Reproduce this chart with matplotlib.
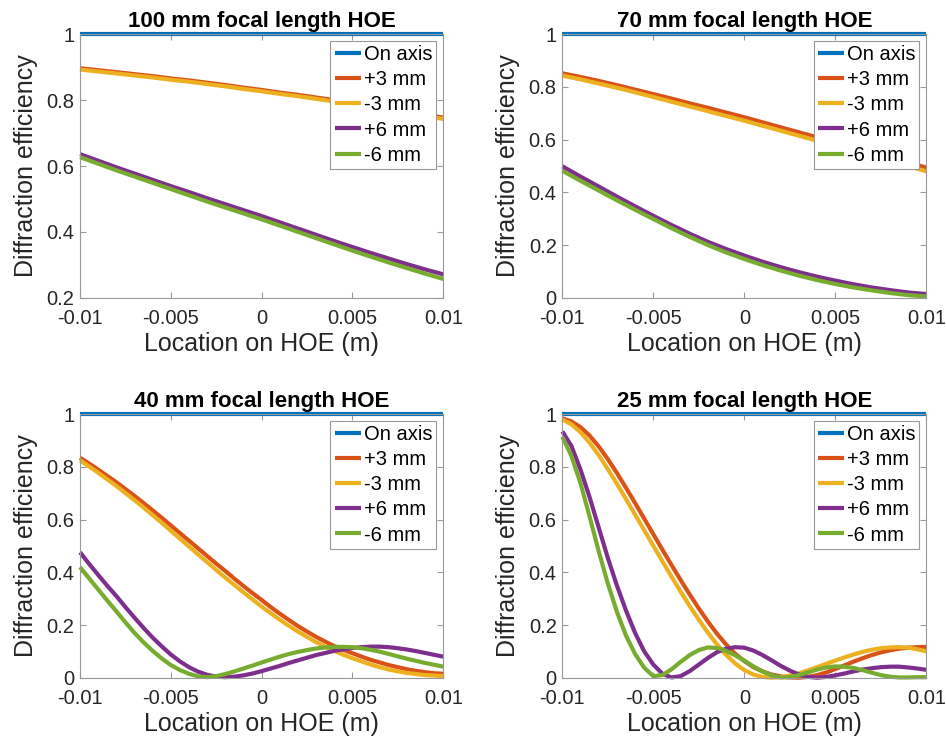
import numpy as np
import matplotlib
matplotlib.use("Agg")
import matplotlib.pyplot as plt

plt.rcParams['font.family'] = ['Liberation Sans', 'DejaVu Sans']

# sample positions on the HOE (m)
x_1mm = np.linspace(-0.01, 0.01, 21)
x_half = np.linspace(-0.01, 0.01, 41)

labels = ["On axis", "+3 mm", "-3 mm", "+6 mm", "-6 mm"]
colors = ["#0072BD", "#D95319", "#EDB120", "#7E2F8E", "#77AC30"]
xtick_vals = [-0.01, -0.005, 0, 0.005, 0.01]
xtick_text = ["-0.01", "-0.005", "0", "0.005", "0.01"]

# 100 mm focal length (every 1 mm)
f100_p3 = [0.897, 0.891, 0.885, 0.879, 0.873, 0.866, 0.860, 0.853, 0.846, 0.838, 0.831,
           0.823, 0.816, 0.808, 0.800, 0.791, 0.783, 0.774, 0.765, 0.756, 0.747]
f100_m3 = [0.893, 0.887, 0.881, 0.875, 0.869, 0.862, 0.856, 0.849, 0.842, 0.834, 0.827,
           0.819, 0.812, 0.804, 0.796, 0.787, 0.779, 0.770, 0.761, 0.752, 0.743]
f100_p6 = [0.636, 0.616, 0.596, 0.577, 0.558, 0.539, 0.521, 0.502, 0.484, 0.466, 0.448,
           0.429, 0.410, 0.391, 0.372, 0.354, 0.336, 0.319, 0.302, 0.286, 0.271]
f100_m6 = [0.627, 0.607, 0.587, 0.568, 0.549, 0.530, 0.511, 0.492, 0.474, 0.456, 0.438,
           0.419, 0.400, 0.381, 0.362, 0.343, 0.325, 0.307, 0.290, 0.273, 0.257]

# 70 mm focal length (every 1 mm)
f70_p3 = [0.852, 0.838, 0.823, 0.807, 0.790, 0.773, 0.756, 0.738, 0.721, 0.703, 0.685,
          0.666, 0.647, 0.628, 0.609, 0.590, 0.571, 0.552, 0.533, 0.514, 0.494]
f70_m3 = [0.843, 0.829, 0.813, 0.797, 0.780, 0.762, 0.744, 0.726, 0.708, 0.690, 0.672,
          0.653, 0.634, 0.615, 0.596, 0.577, 0.557, 0.538, 0.519, 0.499, 0.480]
f70_p6 = [0.499, 0.460, 0.422, 0.384, 0.347, 0.311, 0.276, 0.243, 0.212, 0.185, 0.160,
          0.137, 0.116, 0.097, 0.080, 0.065, 0.051, 0.039, 0.029, 0.020, 0.014]
f70_m6 = [0.482, 0.444, 0.407, 0.370, 0.334, 0.299, 0.264, 0.231, 0.200, 0.172, 0.147,
          0.124, 0.103, 0.084, 0.067, 0.052, 0.039, 0.028, 0.018, 0.010, 0.005]

# 40 mm focal length (every 0.5 mm)
f40_p3 = [0.835, 0.813, 0.790, 0.766, 0.742, 0.716, 0.690, 0.663, 0.635, 0.607, 0.578,
          0.549, 0.520, 0.491, 0.462, 0.433, 0.405, 0.376, 0.348, 0.321, 0.295,
          0.268, 0.243, 0.219, 0.196, 0.175, 0.155, 0.137, 0.120, 0.106, 0.093,
          0.080, 0.068, 0.058, 0.048, 0.040, 0.032, 0.026, 0.021, 0.017, 0.015]
f40_m3 = [0.825, 0.802, 0.778, 0.753, 0.728, 0.701, 0.674, 0.646, 0.617, 0.588, 0.558,
          0.528, 0.498, 0.468, 0.439, 0.409, 0.380, 0.352, 0.324, 0.297, 0.270,
          0.245, 0.220, 0.197, 0.175, 0.155, 0.135, 0.118, 0.102, 0.087, 0.074,
          0.062, 0.050, 0.040, 0.031, 0.024, 0.018, 0.014, 0.010, 0.008, 0.006]
f40_p6 = [0.476, 0.432, 0.390, 0.349, 0.310, 0.268, 0.228, 0.189, 0.152, 0.119, 0.088,
          0.062, 0.040, 0.023, 0.011, 0.004, 0.002, 0.004, 0.009, 0.016, 0.025,
          0.035, 0.045, 0.056, 0.066, 0.076, 0.086, 0.094, 0.102, 0.108, 0.113,
          0.116, 0.118, 0.118, 0.116, 0.112, 0.107, 0.101, 0.094, 0.087, 0.080]
f40_m6 = [0.420, 0.377, 0.335, 0.293, 0.252, 0.210, 0.170, 0.134, 0.102, 0.073, 0.048,
          0.029, 0.015, 0.005, 0.002, 0.006, 0.014, 0.024, 0.035, 0.046, 0.058,
          0.069, 0.080, 0.090, 0.098, 0.105, 0.111, 0.115, 0.117, 0.117, 0.116,
          0.112, 0.106, 0.099, 0.090, 0.081, 0.072, 0.064, 0.056, 0.049, 0.042]

# 25 mm focal length (every 0.5 mm)
f25_p3 = [0.985, 0.973, 0.951, 0.919, 0.878, 0.830, 0.777, 0.721, 0.663, 0.604, 0.545,
          0.486, 0.428, 0.371, 0.316, 0.263, 0.213, 0.167, 0.126, 0.091, 0.063,
          0.040, 0.024, 0.012, 0.005, 0.001, 0.000, 0.003, 0.010, 0.020, 0.033,
          0.047, 0.061, 0.074, 0.086, 0.096, 0.104, 0.110, 0.114, 0.116, 0.117]
f25_m3 = [0.980, 0.962, 0.932, 0.892, 0.845, 0.792, 0.736, 0.678, 0.619, 0.560, 0.501,
          0.442, 0.384, 0.327, 0.272, 0.220, 0.171, 0.126, 0.087, 0.054, 0.029,
          0.012, 0.003, 0.000, 0.002, 0.008, 0.017, 0.028, 0.040, 0.053, 0.065,
          0.077, 0.088, 0.098, 0.106, 0.112, 0.115, 0.116, 0.114, 0.108, 0.100]
f25_p6 = [0.935, 0.880, 0.790, 0.685, 0.570, 0.455, 0.350, 0.255, 0.170, 0.100, 0.050,
          0.015, 0.001, 0.006, 0.025, 0.050, 0.075, 0.097, 0.110, 0.116, 0.114,
          0.103, 0.086, 0.066, 0.045, 0.027, 0.012, 0.003, 0.000, 0.003, 0.009,
          0.016, 0.024, 0.031, 0.036, 0.040, 0.042, 0.042, 0.039, 0.035, 0.030]
f25_m6 = [0.915, 0.842, 0.738, 0.612, 0.480, 0.358, 0.250, 0.160, 0.090, 0.038, 0.006,
          0.010, 0.032, 0.060, 0.086, 0.105, 0.115, 0.113, 0.102, 0.085, 0.065,
          0.043, 0.024, 0.009, 0.001, 0.002, 0.010, 0.020, 0.031, 0.039, 0.043,
          0.042, 0.037, 0.029, 0.019, 0.010, 0.004, 0.001, 0.001, 0.002, 0.002]

panels = [
    ("100 mm focal length HOE", x_1mm, [f100_p3, f100_m3, f100_p6, f100_m6], 0.2),
    ("70 mm focal length HOE", x_1mm, [f70_p3, f70_m3, f70_p6, f70_m6], 0.0),
    ("40 mm focal length HOE", x_half, [f40_p3, f40_m3, f40_p6, f40_m6], 0.0),
    ("25 mm focal length HOE", x_half, [f25_p3, f25_m3, f25_p6, f25_m6], 0.0),
]

# axes boxes in figure fraction [left, bottom, width, height]
boxes = [
    [0.0846, 0.5982, 0.3840, 0.3555],
    [0.5944, 0.5982, 0.3848, 0.3555],
    [0.0846, 0.0854, 0.3840, 0.3555],
    [0.5944, 0.0854, 0.3848, 0.3555],
]

fig = plt.figure(figsize=(9.46, 7.41), dpi=100)

for (title, xs, series, ymin), box in zip(panels, boxes):
    ax = fig.add_axes(box)
    ax.plot(xs, np.ones(len(xs)), color=colors[0], lw=3, label=labels[0],
            clip_on=False, solid_capstyle='butt')
    for ys, c, lab in zip(series, colors[1:], labels[1:]):
        ax.plot(xs, ys, color=c, lw=3, label=lab, clip_on=False,
                solid_capstyle='butt')

    ax.set_xlim(-0.01, 0.01)
    ax.set_ylim(ymin, 1)
    ax.set_xticks(xtick_vals)
    ax.set_xticklabels(xtick_text)
    yt = np.round(np.arange(ymin, 1.0001, 0.2), 1)
    ax.set_yticks(yt)
    ax.set_yticklabels(["1" if v == 1 else ("0" if v == 0 else f"{v:g}") for v in yt])

    ax.tick_params(direction='in', length=4, width=0.8, color='#999999',
                   labelsize=14.5, labelcolor='#262626', top=True, right=True)
    ax.tick_params(axis='x', pad=8)
    ax.tick_params(axis='y', pad=4)
    for sp in ax.spines.values():
        sp.set_color('#999999')
        sp.set_linewidth(0.8)

    ax.set_title(title, fontsize=16, fontweight='bold', pad=5)
    ax.set_xlabel("Location on HOE (m)", fontsize=18, color='#262626', labelpad=3)
    ax.set_ylabel("Diffraction efficiency", fontsize=18, color='#262626', labelpad=6)

    leg = ax.legend(loc='upper right', fontsize=14.5, frameon=True, fancybox=False,
                    edgecolor='#999999', framealpha=1, handlelength=1.3,
                    handletextpad=0.15, labelspacing=0.3, borderpad=0.2,
                    borderaxespad=0.35)
    leg.get_frame().set_linewidth(0.8)

fig.savefig("out.png", dpi=100)
